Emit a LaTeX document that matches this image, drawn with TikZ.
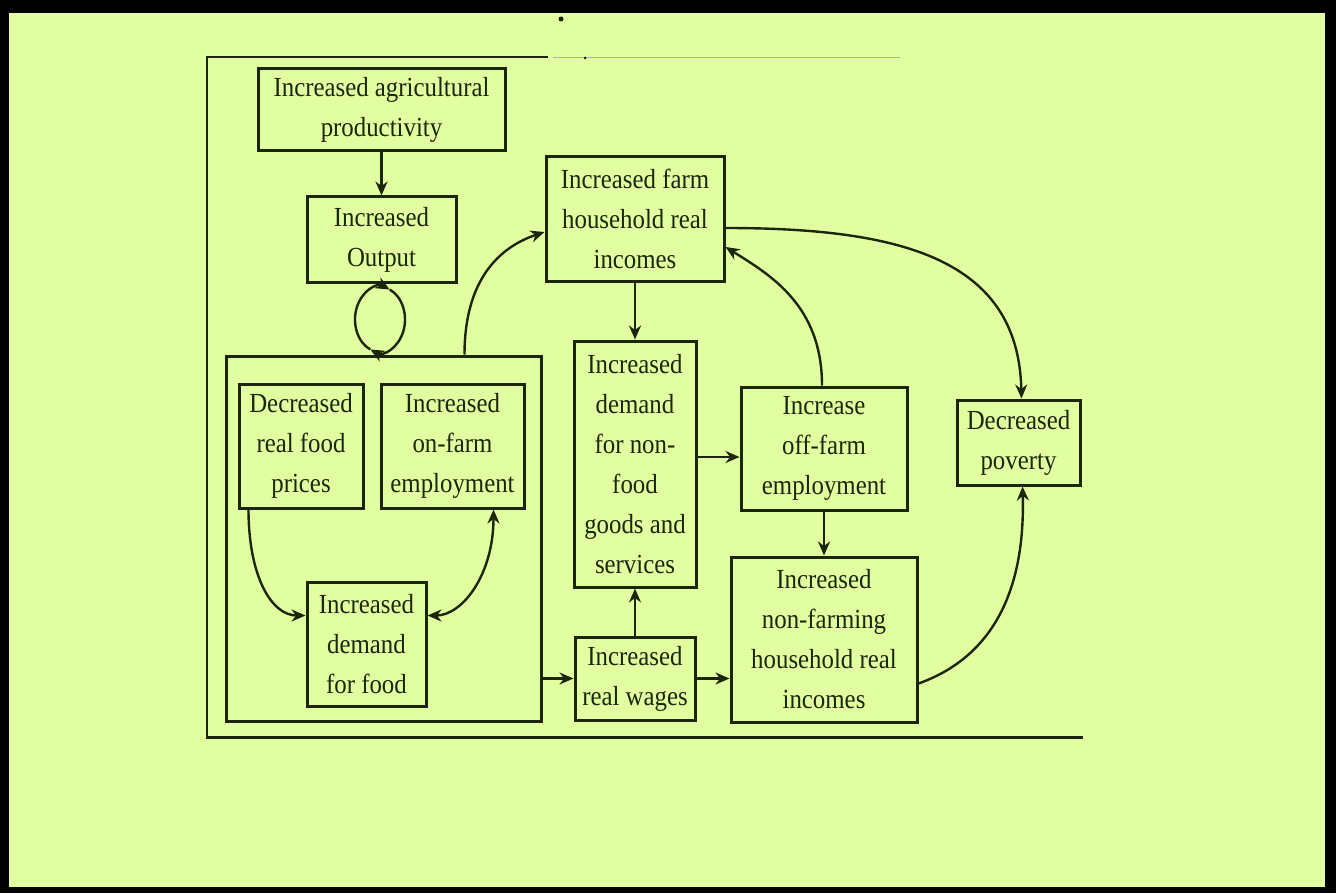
\documentclass[tikz,border=0pt]{standalone}
\usepackage{fontspec}
\setmainfont[FakeStretch=0.9]{Liberation Serif}
\usepackage{xcolor}
\usetikzlibrary{arrows.meta,positioning,calc}
\definecolor{paper}{RGB}{225,255,160}
\definecolor{ink}{RGB}{28,38,12}
\newcommand{\boxfont}{\fontsize{13.8pt}{20pt}\selectfont}
\tikzset{
  block/.style={rectangle, draw=ink, line width=1.5pt, inner sep=0pt,
    align=center, font=\boxfont, text=ink},
  arr/.style={-{Stealth[length=7pt,width=6pt]}, line width=1.2pt, draw=ink},
  dblarr/.style={{Stealth[length=7pt,width=6pt]}-{Stealth[length=7pt,width=6pt]}, line width=1.2pt, draw=ink},
  rule/.style={draw=ink, line width=1pt},
}
\begin{document}
\begin{tikzpicture}[x=0.5pt, y=-0.5pt]
  \useasboundingbox (0,0) rectangle (1336,893);
  % page with black edge
  \fill[black] (0,0) rectangle (1336,893);
  \fill[paper] (9,13) rectangle (1325,887);
  % figure frame
  \draw[rule] (548,57) -- (207,57) -- (207,739);
  \draw[rule, line width=1.5pt] (207,737) -- (1083,737);
  \draw[ink!35, line width=0.5pt] (553,58) -- (900,58);
  \fill[ink] (585,58) circle[radius=1.5];
  \fill[ink] (561,19) circle[radius=2.5];
  % left column
  \node[block, minimum width=123.5pt, minimum height=41pt] (agri) at (381.5,110) {Increased agricultural\\productivity};
  \node[block, minimum width=74.5pt, minimum height=42.5pt] (output) at (381.5,239.5) {Increased\\Output};
  \node[block, minimum width=157.5pt, minimum height=182.5pt] (sector) at (383.5,538.5) {};
  \node[block, minimum width=62pt, minimum height=62pt] (prices) at (301,446) {Decreased\\real food\\prices};
  \node[block, minimum width=71.5pt, minimum height=62pt] (onfarm) at (452.5,446) {Increased\\on-farm\\employment};
  \node[block, minimum width=59.5pt, minimum height=62pt] (fooddem) at (366.5,644) {Increased\\demand\\for food};
  % middle and right
  \node[block, minimum width=89pt, minimum height=62pt] (farminc) at (635,219) {Increased farm\\household real\\incomes};
  \node[block, minimum width=61pt, minimum height=123pt] (nonfood) at (635,464) {Increased\\demand\\for non-\\food\\goods and\\services};
  \node[block, minimum width=83pt, minimum height=61.5pt] (offfarm) at (824,448.5) {Increase\\off-farm\\employment};
  \node[block, minimum width=61.5pt, minimum height=42.5pt] (poverty) at (1018.5,442.5) {Decreased\\poverty};
  \node[block, minimum width=60pt, minimum height=41.5pt] (wages) at (635,678.5) {Increased\\real wages};
  \node[block, minimum width=93pt, minimum height=82.5pt] (nonfarm) at (824,639.5) {Increased\\non-farming\\household real\\incomes};
  % loop under output
  \coordinate (loopc) at (380,319.5);
  \draw[arr] ($(loopc)+(113:25 and 32.5)$) arc[start angle=113, end angle=293, x radius=25, y radius=32.5];
  \draw[arr] ($(loopc)+(293:25 and 32.5)$) arc[start angle=293, end angle=473, x radius=25, y radius=32.5];
  % straight arrows
  \draw[arr] (agri) -- (output);
  \draw[arr] (farminc) -- (nonfood);
  \draw[arr] (wages) -- (nonfood);
  \draw[arr] (offfarm) -- (nonfarm);
  \draw[arr] (sector.east |- wages.west) -- (wages.west);
  \draw[arr] (wages.east) -- (nonfarm.west |- wages.east);
  \coordinate (midrow) at (0,457);
  \draw[arr] (nonfood.east |- midrow) -- (offfarm.west |- midrow);
  % curved arrows
  \coordinate (sectorN) at ($(sector.north east)+(-78,0)$);
  \draw[arr] (sectorN) .. controls +(0,-75) and +(-45,15) .. ($(farminc.west)+(0,13)$);
  \draw[arr] ($(farminc.east)+(0,9)$) .. controls +(175,0) and +(-3,-140) .. ($(poverty.north)+(3,0)$);
  \draw[arr] ($(offfarm.north)+(-2,0)$) .. controls +(0,-80) and +(45,28) .. ($(farminc.east)+(0,28)$);
  \draw[arr] ($(nonfarm.east)+(0,44)$) .. controls +(70,-25) and +(3,110) .. ($(poverty.south)+(4,0)$);
  \draw[arr] ($(prices.south west)+(11,0)$) .. controls +(0,65) and +(-35,0) .. ($(fooddem.north west)+(0,35)$);
  \draw[dblarr] ($(onfarm.south east)+(-32,0)$) .. controls +(0,65) and +(35,0) .. ($(fooddem.north east)+(0,35)$);
\end{tikzpicture}
\end{document}
